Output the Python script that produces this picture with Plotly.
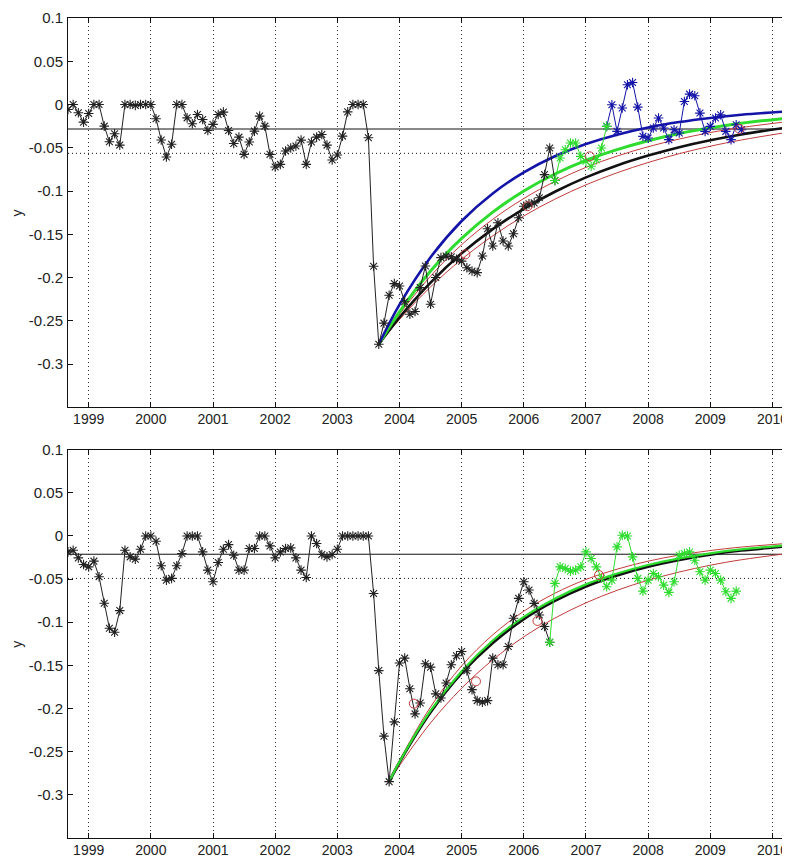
import plotly.graph_objects as go

# ---------------- data ----------------
START = 1998 + 8 / 12          # first monthly sample (Sep 1998)
X_RANGE = [1998.667, 2010.25]
YEARS = list(range(1999, 2011))
YEAR_LABELS = [str(y) for y in YEARS]
Y_TICKS = [0.1, 0.05, 0, -0.05, -0.1, -0.15, -0.2, -0.25, -0.3]
Y_LABELS = ["0.1", "0.05", "0", "-0.05", "-0.1", "-0.15", "-0.2", "-0.25", "-0.3"]

# ---- top panel ----
top_black = [
    -0.0058, 0, -0.0096, -0.0204, -0.0104, 0, 0, -0.025, -0.043, -0.0338,
    -0.0469, 0, 0, -0.001, 0, 0, 0, -0.0165, -0.041, -0.0607,
    -0.046, 0, 0, -0.0154, -0.0223, -0.0115, -0.0173, -0.030, -0.023, -0.0115,
    -0.0088, -0.030, -0.045, -0.0377, -0.0576, -0.0434, -0.0307, -0.0134, -0.025, -0.0576,
    -0.0722, -0.0692, -0.0538, -0.0503, -0.048, -0.0411, -0.0692, -0.0434, -0.0377, -0.0346,
    -0.0469, -0.0642, -0.0584, -0.0365, -0.0085, 0, 0, 0, -0.0384,
    -0.187, -0.277, -0.2527, -0.2205, -0.207, -0.2097, -0.228, -0.2424, -0.2392, -0.2116,
    -0.1867, -0.2308, -0.20, -0.177, -0.175, -0.176, -0.179, -0.181, -0.1886, -0.1924,
    -0.1943, -0.175, -0.1436, -0.1636, -0.1367, -0.1578, -0.1636, -0.1494, -0.1309, -0.1175,
    -0.1148, -0.1137, -0.1078, -0.081, -0.0502, -0.0879,
]
top_green_start = 94
top_green = [-0.0879, -0.0618, -0.0522, -0.0445, -0.0445, -0.0599, -0.0656, -0.0714,
             -0.0637, -0.0502, -0.0253]
top_blue_start = 104
top_blue = [-0.0253, -0.0003, -0.031, -0.0041, 0.0228, 0.0254, -0.003, -0.0368, -0.0387,
            -0.0272, -0.0156, -0.0272, -0.0406, -0.0291, -0.0329, 0.0035, 0.012, 0.0101,
            -0.0099, -0.031, -0.0253, -0.0156, -0.0118, -0.031, -0.0406, -0.0233, -0.0291]
top_circle_x = [2005.06, 2006.06, 2007.06, 2009.47]
top_circle_y = [-0.1732, -0.1175, -0.0599, -0.0283]
top_mean = -0.0283
top_thresh = -0.0564

top_curve_t = [2003.667, 2004.0, 2004.5, 2005.0, 2005.5, 2006.0, 2006.5, 2007.0,
               2007.5, 2008.0, 2008.5, 2009.0, 2009.5, 2010.25]
top_curve_blue = [-0.277, -0.2313, -0.1765, -0.1346, -0.1028, -0.0784, -0.0598, -0.0457,
                  -0.0349, -0.0266, -0.0203, -0.0155, -0.0118, -0.0079]
top_curve_green = [-0.277, -0.2396, -0.1925, -0.1548, -0.1244, -0.1000, -0.0803, -0.0645,
                   -0.0521, -0.0418, -0.0335, -0.0270, -0.0217, -0.0156]
top_curve_black = [-0.277, -0.2460, -0.2058, -0.1720, -0.1440, -0.1205, -0.1008, -0.0842,
                   -0.0704, -0.0590, -0.0493, -0.0413, -0.0346, -0.0264]
top_curve_red_hi = [-0.277, -0.2424, -0.1983, -0.1620, -0.1327, -0.1086, -0.0889, -0.0726,
                    -0.0596, -0.0488, -0.0399, -0.0324, -0.0266, -0.0197]
top_curve_red_lo = [-0.277, -0.2485, -0.2108, -0.1789, -0.1518, -0.1288, -0.1094, -0.0928,
                    -0.0789, -0.0670, -0.0568, -0.0482, -0.0410, -0.0320]

# ---- bottom panel ----
bot_black = [
    -0.0185, -0.0165, -0.0254, -0.0331, -0.0358, -0.0292, -0.0473, -0.078, -0.107, -0.1115,
    -0.0865, -0.0165, -0.0242, -0.0269, -0.0154, 0, 0, -0.0062, -0.0346, -0.0512,
    -0.0492, -0.0346, -0.0204, 0, 0, 0, -0.0185, -0.0396, -0.0531, -0.0308,
    -0.0154, -0.01, -0.0223, -0.0396, -0.0396, -0.0146, -0.0146, 0, 0, -0.0115,
    -0.0254, -0.0185, -0.0146, -0.0138, -0.0254, -0.0396, -0.0481, 0, -0.0088, -0.0215,
    -0.0242, -0.0215, -0.0154, 0, 0, 0, 0, 0, 0,
    -0.0666, -0.156, -0.232, -0.2847, -0.2154, -0.1473, -0.1416, -0.177, -0.2062, -0.1935,
    -0.148, -0.152, -0.183, -0.1877, -0.1704, -0.1493, -0.1389, -0.1339, -0.1562, -0.1781,
    -0.1908, -0.1927, -0.1908, -0.1416, -0.1493, -0.1493, -0.1281, -0.0954, -0.0723, -0.0531,
    -0.0627, -0.0781, -0.0916, -0.105, -0.1231,
]
bot_green_start = 93
bot_green = [-0.1231, -0.055, -0.0358, -0.0377, -0.0408, -0.0396, -0.0358, -0.0185, -0.0262,
             -0.0358, -0.049, -0.0589, -0.0512, -0.0127, 0.0008, 0.0, -0.0242, -0.0492,
             -0.0639, -0.0512, -0.0435, -0.0473, -0.057, -0.0654, -0.0531, -0.0223, -0.0204,
             -0.0185, -0.0281, -0.0415, -0.0512, -0.0396, -0.0435, -0.0512, -0.0646, -0.0723,
             -0.0639]
bot_circle_x = [2004.23, 2005.23, 2006.22, 2007.21]
bot_circle_y = [-0.1943, -0.1685, -0.0985, -0.0454]
bot_mean = -0.0212
bot_thresh = -0.0492

bot_curve_t = [2003.833, 2004.0, 2004.5, 2005.0, 2005.5, 2006.0, 2006.5, 2007.0,
               2007.5, 2008.0, 2008.5, 2009.0, 2009.5, 2010.25]
bot_curve_black = [-0.285, -0.2622, -0.2043, -0.1590, -0.1240, -0.0963, -0.0752, -0.0584,
                   -0.0456, -0.0355, -0.0276, -0.0215, -0.0168, -0.0118]
bot_curve_green = [-0.285, -0.2616, -0.2024, -0.1568, -0.1211, -0.0938, -0.0727, -0.0561,
                   -0.0435, -0.0336, -0.0260, -0.0201, -0.0156, -0.0106]
bot_curve_red_hi = [-0.285, -0.2602, -0.1981, -0.1505, -0.1146, -0.0872, -0.0664, -0.0504,
                    -0.0385, -0.0292, -0.0222, -0.0169, -0.0129, -0.0086]
bot_curve_red_lo = [-0.285, -0.2662, -0.2166, -0.1764, -0.1436, -0.1169, -0.0952, -0.0775,
                    -0.0630, -0.0513, -0.0418, -0.0339, -0.0276, -0.0203]

# ---------------- styling ----------------
BLUE = "#1414a8"
GREEN = "#2edb2e"
RED = "#c23b3b"
BLACK = "#111111"
FONT = "Liberation Sans, Arial, sans-serif"
FSIZE = 15
XFSIZE = 14


def months(i0, n):
    return [START + (i0 + k) / 12 for k in range(n)]


fig = go.Figure()


def curve(t, y, color, width, xa, ya):
    fig.add_trace(go.Scatter(x=t, y=y, mode="lines", xaxis=xa, yaxis=ya,
                             line=dict(color=color, width=width, shape="spline", smoothing=1.0),
                             hoverinfo="skip", showlegend=False))


def data(x, y, color, xa, ya):
    fig.add_trace(go.Scatter(x=x, y=y, mode="lines+markers", xaxis=xa, yaxis=ya,
                             line=dict(color=color, width=1),
                             marker=dict(symbol="asterisk-open", size=8, color=color,
                                         line=dict(color=color, width=1.1)),
                             showlegend=False))


def circles(x, y, xa, ya):
    fig.add_trace(go.Scatter(x=x, y=y, mode="markers", xaxis=xa, yaxis=ya,
                             marker=dict(symbol="circle-open", size=9, color=RED,
                                         line=dict(color=RED, width=1)),
                             showlegend=False))


# top panel (x, y)
curve(top_curve_t, top_curve_red_lo, RED, 1, "x", "y")
curve(top_curve_t, top_curve_red_hi, RED, 1, "x", "y")
curve(top_curve_t, top_curve_black, BLACK, 2.6, "x", "y")
curve(top_curve_t, top_curve_green, GREEN, 3, "x", "y")
curve(top_curve_t, top_curve_blue, BLUE, 2.6, "x", "y")
data(months(0, len(top_black)), top_black, "#222222", "x", "y")
data(months(top_blue_start, len(top_blue)), top_blue, BLUE, "x", "y")
data(months(top_green_start, len(top_green)), top_green, GREEN, "x", "y")
circles(top_circle_x, top_circle_y, "x", "y")

# bottom panel (x2, y2)
curve(bot_curve_t, bot_curve_red_lo, RED, 1, "x2", "y2")
curve(bot_curve_t, bot_curve_red_hi, RED, 1, "x2", "y2")
curve(bot_curve_t, bot_curve_black, BLACK, 2.8, "x2", "y2")
curve(bot_curve_t, bot_curve_green, GREEN, 2.2, "x2", "y2")
data(months(0, len(bot_black)), bot_black, "#222222", "x2", "y2")
data(months(bot_green_start, len(bot_green)), bot_green, GREEN, "x2", "y2")
circles(bot_circle_x, bot_circle_y, "x2", "y2")

# reference horizontal lines
for yref, xref, mean, thr in (("y", "x", top_mean, top_thresh), ("y2", "x2", bot_mean, bot_thresh)):
    fig.add_shape(type="line", xref=xref, yref=yref, x0=X_RANGE[0], x1=X_RANGE[1], y0=mean, y1=mean,
                  line=dict(color=BLACK, width=1), layer="below")
    fig.add_shape(type="line", xref=xref, yref=yref, x0=X_RANGE[0], x1=X_RANGE[1], y0=thr, y1=thr,
                  line=dict(color=BLACK, width=1, dash="1px,3px"), layer="below")

axis_common = dict(showline=True, linecolor=BLACK, linewidth=1, mirror="ticks",
                   ticks="inside", ticklen=5, tickcolor=BLACK, zeroline=False,
                   ticklabeloverflow="allow")
xaxis_common = dict(axis_common, range=X_RANGE, tickmode="array", tickvals=YEARS,
                    ticktext=YEAR_LABELS, showgrid=True, gridcolor="#333333",
                    griddash="1px,3px", gridwidth=1, ticklabelstandoff=-1,
                    tickfont=dict(family=FONT, size=XFSIZE, color="#222222"))
yaxis_common = dict(axis_common, range=[-0.35, 0.1], tickmode="array", tickvals=Y_TICKS,
                    ticktext=Y_LABELS, showgrid=False, ticklabelstandoff=1,
                    tickfont=dict(family=FONT, size=FSIZE, color="#222222"))

TOP_DOM = [0.5252, 1.0]
BOT_DOM = [0.0, 0.4736]

# the page body adds an 8px offset, so the figure is sized to fill the rest of the window
fig.update_layout(
    width=782, height=851,
    margin=dict(l=60, r=1, t=10, b=19),
    paper_bgcolor="white", plot_bgcolor="white",
    font=dict(family=FONT, size=FSIZE, color="#222222"),
    showlegend=False,
    xaxis=dict(xaxis_common, domain=[0, 1], anchor="y"),
    yaxis=dict(yaxis_common, domain=TOP_DOM, anchor="x"),
    xaxis2=dict(xaxis_common, domain=[0, 1], anchor="y2"),
    yaxis2=dict(yaxis_common, domain=BOT_DOM, anchor="x2"),
    annotations=[
        dict(text="y", xref="paper", yref="paper", x=-0.071, y=(TOP_DOM[0] + TOP_DOM[1]) / 2,
             xanchor="center", yanchor="middle",
             textangle=-90, showarrow=False, font=dict(family=FONT, size=14, color="#222222")),
        dict(text="y", xref="paper", yref="paper", x=-0.071, y=(BOT_DOM[0] + BOT_DOM[1]) / 2,
             xanchor="center", yanchor="middle",
             textangle=-90, showarrow=False, font=dict(family=FONT, size=14, color="#222222")),
    ],
)

fig.write_html("out.html")
